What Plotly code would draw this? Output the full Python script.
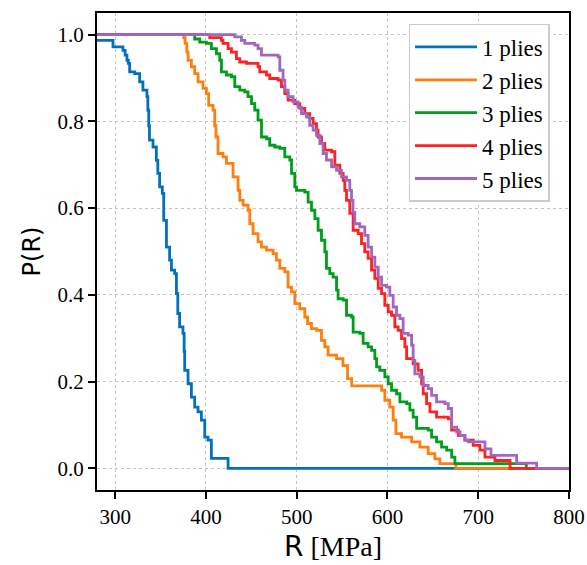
import plotly.graph_objects as go

# Step vertices (x = R in MPa, y = P(R) after the step)
x1 = [280, 297.6, 308.6, 311, 313, 314.5, 316, 321.5, 327, 330.6, 335, 336, 337, 337.8, 341.7, 345.4, 347, 349, 352, 353.5, 356.5, 360, 362, 365.6, 367.5, 369, 371, 374.7, 376, 376.6, 380.3, 384, 387.6, 391.3, 395, 398.7, 402.3, 406, 424.4, 800]
y1 = [0.987, 0.972, 0.964, 0.953, 0.941, 0.934, 0.914, 0.91, 0.891, 0.872, 0.857, 0.826, 0.79, 0.757, 0.741, 0.71, 0.68, 0.649, 0.634, 0.572, 0.51, 0.48, 0.457, 0.449, 0.403, 0.357, 0.326, 0.311, 0.27, 0.226, 0.195, 0.164, 0.141, 0.13, 0.111, 0.072, 0.065, 0.023, 0.0, 0.0]

x2 = [280, 375.5, 377, 379, 380.3, 384, 387.6, 391.3, 396.8, 400.5, 403, 407.8, 409.7, 411, 413.3, 418.8, 422.6, 429.9, 435.4, 437.3, 441, 446.4, 448.3, 452, 457.4, 461.2, 466.7, 474, 477.7, 481.4, 486.9, 490.5, 494.3, 497.9, 503.4, 508.9, 512, 516.3, 522, 527.3, 531, 534.6, 543.9, 551, 556, 560.6, 593.5, 597.1, 602.6, 606.3, 609.3, 615.5, 626.6, 635.7, 644.9, 652.3, 657.8, 675.4, 800]
y2 = [1.0, 0.993, 0.98, 0.96, 0.941, 0.926, 0.91, 0.891, 0.876, 0.864, 0.837, 0.826, 0.79, 0.764, 0.726, 0.718, 0.703, 0.672, 0.641, 0.618, 0.607, 0.595, 0.564, 0.541, 0.522, 0.51, 0.503, 0.495, 0.48, 0.461, 0.453, 0.418, 0.407, 0.38, 0.368, 0.349, 0.334, 0.322, 0.318, 0.295, 0.28, 0.261, 0.253, 0.237, 0.207, 0.19, 0.18, 0.157, 0.141, 0.111, 0.08, 0.072, 0.061, 0.049, 0.034, 0.022, 0.011, 0.0, 0.0]

x3 = [280, 387.6, 393.2, 400.5, 406, 411.6, 415.2, 417.1, 422.6, 428.1, 431.8, 437.3, 442.8, 446.4, 450.2, 453.8, 457.4, 461.2, 466.7, 470.3, 475.9, 481.4, 486.9, 492.4, 494.3, 497.9, 499.8, 508.9, 512.6, 516.3, 520, 523.6, 527.3, 531, 532.8, 536.5, 540.1, 543.9, 545.6, 551.2, 554.9, 560.4, 562.2, 569.5, 573.2, 578.7, 582.5, 586.1, 588, 591.6, 597.1, 600.8, 604.5, 610, 613.7, 621.1, 624.7, 628.3, 632.1, 644.9, 648.6, 654.1, 659.6, 665.2, 670.7, 674.3, 753, 800]
y3 = [1.0, 0.99, 0.983, 0.98, 0.968, 0.956, 0.941, 0.914, 0.907, 0.903, 0.88, 0.872, 0.868, 0.857, 0.841, 0.826, 0.803, 0.764, 0.76, 0.745, 0.741, 0.738, 0.718, 0.711, 0.68, 0.649, 0.641, 0.637, 0.614, 0.595, 0.576, 0.549, 0.526, 0.499, 0.461, 0.449, 0.441, 0.411, 0.391, 0.388, 0.353, 0.349, 0.314, 0.311, 0.288, 0.28, 0.272, 0.253, 0.234, 0.226, 0.211, 0.195, 0.18, 0.172, 0.153, 0.149, 0.134, 0.118, 0.092, 0.088, 0.072, 0.061, 0.049, 0.042, 0.026, 0.011, 0.0, 0.0]

x4 = [280, 404.2, 417, 418.8, 424.4, 428.1, 433.6, 437.3, 444.7, 457.4, 459.3, 466.7, 470.3, 479.5, 483.2, 486.9, 490.5, 497.9, 503.4, 508.9, 514.4, 518.1, 521.8, 523.6, 527.3, 531, 538.4, 542, 547.5, 551.2, 553, 554.9, 558.5, 562.2, 567.7, 571.4, 575, 578.7, 582.5, 586.1, 589.8, 593.5, 597.1, 600.8, 604.5, 608.1, 611.8, 615.5, 619.2, 621.1, 628.3, 633.8, 637.6, 639.4, 643.1, 646.8, 654.1, 667, 670.7, 678, 685.3, 694.5, 701.9, 707.4, 718.4, 735, 800]
y4 = [1.0, 0.993, 0.987, 0.98, 0.968, 0.96, 0.945, 0.937, 0.934, 0.926, 0.914, 0.907, 0.899, 0.895, 0.88, 0.864, 0.849, 0.841, 0.83, 0.818, 0.807, 0.795, 0.78, 0.764, 0.749, 0.734, 0.73, 0.699, 0.68, 0.664, 0.641, 0.618, 0.588, 0.549, 0.541, 0.518, 0.499, 0.484, 0.457, 0.438, 0.415, 0.403, 0.376, 0.361, 0.353, 0.326, 0.318, 0.299, 0.28, 0.253, 0.241, 0.226, 0.195, 0.172, 0.149, 0.13, 0.118, 0.114, 0.088, 0.076, 0.065, 0.053, 0.042, 0.026, 0.018, 0.0, 0.0]

x5 = [280, 431.8, 439.1, 442.8, 453.8, 457.4, 461.2, 479.5, 481.4, 485, 486.9, 490.5, 496, 501.5, 505.3, 510.8, 514.4, 518.1, 521.8, 525.5, 529.1, 532.8, 538.4, 543.9, 549.4, 554.9, 558.5, 560.4, 562, 564, 569.5, 575, 578.7, 582.5, 586.1, 589.8, 593.5, 599, 602.6, 606.3, 610, 613.7, 617.3, 622.8, 626.6, 628.3, 630.2, 635.7, 639.4, 644.9, 648.6, 654.1, 663.3, 667, 670.7, 676.2, 679.9, 685.3, 689, 707.4, 714, 742.3, 764.3, 800]
y5 = [1.0, 0.995, 0.987, 0.98, 0.976, 0.968, 0.953, 0.949, 0.918, 0.895, 0.872, 0.857, 0.845, 0.833, 0.818, 0.81, 0.791, 0.78, 0.768, 0.749, 0.726, 0.711, 0.695, 0.687, 0.672, 0.664, 0.641, 0.618, 0.59, 0.564, 0.557, 0.537, 0.51, 0.487, 0.464, 0.441, 0.422, 0.418, 0.399, 0.372, 0.353, 0.345, 0.311, 0.307, 0.284, 0.249, 0.218, 0.211, 0.191, 0.184, 0.168, 0.153, 0.149, 0.138, 0.095, 0.084, 0.076, 0.065, 0.061, 0.045, 0.03, 0.012, 0.0, 0.0]

names = ["1 plies", "2 plies", "3 plies", "4 plies", "5 plies"]
colors = ["#0072BD", "#FF7F0E", "#009E1A", "#FF2020", "#A066C0"]
xs = [x1, x2, x3, x4, x5]
ys = [y1, y2, y3, y4, y5]

x_ticks = [300, 400, 500, 600, 700, 800]
y_ticks = [0.0, 0.2, 0.4, 0.6, 0.8, 1.0]

FONT = "Liberation Serif, Times New Roman, serif"

fig = go.Figure()
for x, y, n, c in zip(xs, ys, names, colors):
    fig.add_trace(go.Scatter(x=x, y=y, mode="lines", name=n,
                             line=dict(color=c, width=2.8, shape="hv")))

axis_common = dict(
    showline=True, linecolor="black", linewidth=2, mirror=True,
    ticks="outside", ticklen=7, tickwidth=2, tickcolor="black",
    showgrid=True, gridcolor="#c4c4c4", gridwidth=1, griddash="dot",
    zeroline=False, automargin=False,
    tickfont=dict(family=FONT, size=21, color="black"),
)

fig.update_layout(
    width=587, height=565,
    margin=dict(l=97, r=18, t=13, b=75),
    paper_bgcolor="white", plot_bgcolor="white",
    font=dict(family=FONT, color="black"),
    xaxis=dict(range=[280, 800], tickvals=x_ticks,
               title=dict(text='<span style="font-family:DejaVu Sans">R</span> [MPa]',
                          font=dict(family=FONT, size=28), standoff=8),
               **axis_common),
    yaxis=dict(range=[-0.05, 1.05], tickvals=y_ticks, tickformat=".1f",
               title=dict(text='P(R)', font=dict(family="DejaVu Sans", size=24), standoff=10),
               **axis_common),
    legend=dict(x=0.66, y=0.977, xanchor="left", yanchor="top",
                bgcolor="white", bordercolor="#cccccc", borderwidth=1.5,
                font=dict(family=FONT, size=23), tracegroupgap=0,
                itemwidth=62),
    showlegend=True,
)

fig.write_html("out.html")
